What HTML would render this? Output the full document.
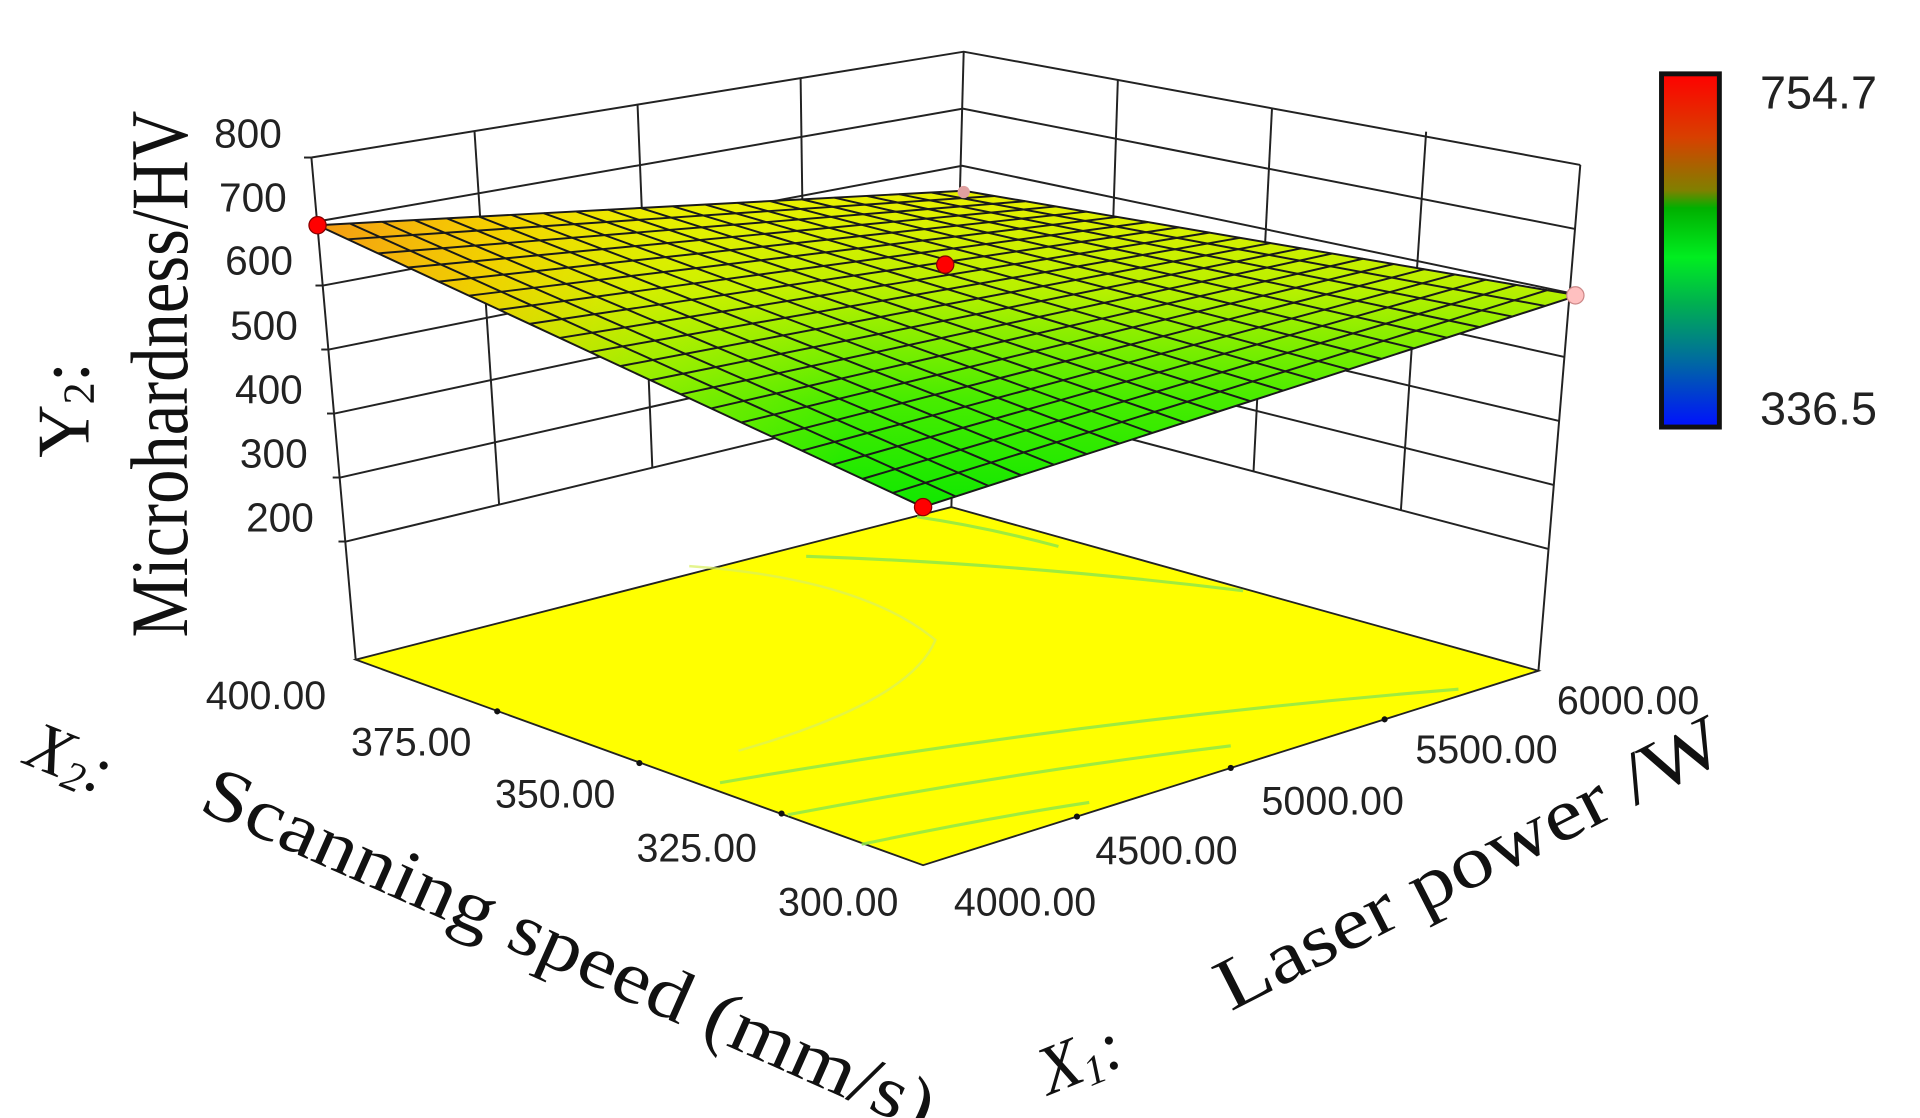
<!DOCTYPE html>
<html><head><meta charset="utf-8"><style>
html,body{margin:0;padding:0;background:#fff;}
svg{display:block;}
</style></head><body>
<svg width="1920" height="1118" viewBox="0 0 1560 908.4" xmlns="http://www.w3.org/2000/svg">
<defs>
<linearGradient id="cb" x1="0" y1="0" x2="0" y2="1">
<stop offset="0" stop-color="#ff0000"/>
<stop offset="0.18" stop-color="#d84000"/>
<stop offset="0.33" stop-color="#808000"/>
<stop offset="0.38" stop-color="#00b000"/>
<stop offset="0.52" stop-color="#00ee20"/>
<stop offset="0.65" stop-color="#00b050"/>
<stop offset="0.8" stop-color="#00709a"/>
<stop offset="1" stop-color="#0010ff"/>
</linearGradient>
<linearGradient id="sv" gradientUnits="userSpaceOnUse" x1="0" y1="412" x2="0" y2="160">
<stop offset="0" stop-color="#10e800"/>
<stop offset="0.35" stop-color="#48ec00"/>
<stop offset="0.7" stop-color="#b8f000"/>
<stop offset="1" stop-color="#e8f000"/>
</linearGradient>
<linearGradient id="sh" gradientUnits="userSpaceOnUse" x1="258" y1="190" x2="700" y2="300">
<stop offset="0" stop-color="#f49a14" stop-opacity="1"/>
<stop offset="0.3" stop-color="#fcc800" stop-opacity="0.8"/>
<stop offset="0.65" stop-color="#f8f000" stop-opacity="0.35"/>
<stop offset="1" stop-color="#f8f000" stop-opacity="0"/>
</linearGradient>
</defs>

<g stroke="#222" stroke-width="1.6" fill="none">
<polyline points="253,128 783,42 1284,134"/>
<polyline points="257.7,180 782.3,88.3 1279.7,186"/>
<polyline points="262.3,232 781.7,134.7 1275.3,238"/>
<polyline points="267,284 781,181 1271,290"/>
<polyline points="271.7,336 780.3,227.3 1266.7,342"/>
<polyline points="276.3,388 779.7,273.7 1262.3,394"/>
<polyline points="281,440 779,320 1258,446"/>
<line x1="253" y1="128" x2="289" y2="536"/>
<line x1="1284" y1="134" x2="1250" y2="545"/>
<line x1="783" y1="42" x2="773" y2="412"/>
<line x1="385.5" y1="106.5" x2="405.5" y2="410"/>
<line x1="518" y1="85" x2="530" y2="380"/>
<line x1="650.5" y1="63.5" x2="654.5" y2="350"/>
<line x1="1158.75" y1="107" x2="1138.25" y2="414.5"/>
<line x1="1033.5" y1="88" x2="1018.5" y2="383"/>
<line x1="908.25" y1="65" x2="898.75" y2="351.5"/>
<line x1="247" y1="128" x2="253" y2="128"/>
<line x1="251.7" y1="180" x2="257.7" y2="180"/>
<line x1="256.3" y1="232" x2="262.3" y2="232"/>
<line x1="261" y1="284" x2="267" y2="284"/>
<line x1="265.7" y1="336" x2="271.7" y2="336"/>
<line x1="270.3" y1="388" x2="276.3" y2="388"/>
<line x1="275" y1="440" x2="281" y2="440"/>
</g>

<polygon points="289,536 750,703 1250,545 773,412" fill="#ffff00" stroke="#222" stroke-width="1.5"/>
<g fill="none" stroke="#8ee84a" stroke-width="2.5" opacity="0.85">
<path d="M 700,686 Q 800,665 885,652"/>
<path d="M 640,662 Q 820,628 1000,606"/>
<path d="M 585,636 Q 880,585 1185,560"/>
<path d="M 745,420 Q 800,428 860,444"/>
<path d="M 655,452 Q 830,458 1010,480"/>
</g>
<path d="M 560,460 Q 700,470 760,520 Q 740,570 600,610" fill="none" stroke="#d8f060" stroke-width="2" opacity="0.7"/>
<g fill="#111">
<circle cx="404" cy="578" r="2.5"/><circle cx="519.5" cy="620" r="2.5"/><circle cx="635" cy="661" r="2.5"/>
<circle cx="875" cy="663.5" r="2.5"/><circle cx="1000" cy="624" r="2.5"/><circle cx="1125" cy="584.5" r="2.5"/>
</g>

<polygon points="750,412 1282,240 783,155 258,183" fill="url(#sv)"/>
<polygon points="750,412 1282,240 783,155 258,183" fill="url(#sh)"/>
<g stroke="#1a1a1a" stroke-width="1.6" fill="none">
<line x1="750" y1="412" x2="258" y2="183"/>
<line x1="776.6" y1="403.4" x2="284.25" y2="181.6"/>
<line x1="803.2" y1="394.8" x2="310.5" y2="180.2"/>
<line x1="829.8" y1="386.2" x2="336.75" y2="178.8"/>
<line x1="856.4" y1="377.6" x2="363" y2="177.4"/>
<line x1="883" y1="369" x2="389.25" y2="176"/>
<line x1="909.6" y1="360.4" x2="415.5" y2="174.6"/>
<line x1="936.2" y1="351.8" x2="441.75" y2="173.2"/>
<line x1="962.8" y1="343.2" x2="468" y2="171.8"/>
<line x1="989.4" y1="334.6" x2="494.25" y2="170.4"/>
<line x1="1016" y1="326" x2="520.5" y2="169"/>
<line x1="1042.6" y1="317.4" x2="546.75" y2="167.6"/>
<line x1="1069.2" y1="308.8" x2="573" y2="166.2"/>
<line x1="1095.8" y1="300.2" x2="599.25" y2="164.8"/>
<line x1="1122.4" y1="291.6" x2="625.5" y2="163.4"/>
<line x1="1149" y1="283" x2="651.75" y2="162"/>
<line x1="1175.6" y1="274.4" x2="678" y2="160.6"/>
<line x1="1202.2" y1="265.8" x2="704.25" y2="159.2"/>
<line x1="1228.8" y1="257.2" x2="730.5" y2="157.8"/>
<line x1="1255.4" y1="248.6" x2="756.75" y2="156.4"/>
<line x1="1282" y1="240" x2="783" y2="155"/>
<line x1="750" y1="412" x2="1282" y2="240"/>
<line x1="725.4" y1="400.55" x2="1257.05" y2="235.75"/>
<line x1="700.8" y1="389.1" x2="1232.1" y2="231.5"/>
<line x1="676.2" y1="377.65" x2="1207.15" y2="227.25"/>
<line x1="651.6" y1="366.2" x2="1182.2" y2="223"/>
<line x1="627" y1="354.75" x2="1157.25" y2="218.75"/>
<line x1="602.4" y1="343.3" x2="1132.3" y2="214.5"/>
<line x1="577.8" y1="331.85" x2="1107.35" y2="210.25"/>
<line x1="553.2" y1="320.4" x2="1082.4" y2="206"/>
<line x1="528.6" y1="308.95" x2="1057.45" y2="201.75"/>
<line x1="504" y1="297.5" x2="1032.5" y2="197.5"/>
<line x1="479.4" y1="286.05" x2="1007.55" y2="193.25"/>
<line x1="454.8" y1="274.6" x2="982.6" y2="189"/>
<line x1="430.2" y1="263.15" x2="957.65" y2="184.75"/>
<line x1="405.6" y1="251.7" x2="932.7" y2="180.5"/>
<line x1="381" y1="240.25" x2="907.75" y2="176.25"/>
<line x1="356.4" y1="228.8" x2="882.8" y2="172"/>
<line x1="331.8" y1="217.35" x2="857.85" y2="167.75"/>
<line x1="307.2" y1="205.9" x2="832.9" y2="163.5"/>
<line x1="282.6" y1="194.45" x2="807.95" y2="159.25"/>
<line x1="258" y1="183" x2="783" y2="155"/>
</g>
<circle cx="258" cy="183" r="7" fill="#ff0000" stroke="#800"/>
<circle cx="768" cy="215" r="7" fill="#ff0000" stroke="#800"/>
<circle cx="750" cy="412" r="7" fill="#ff0000" stroke="#800"/>
<circle cx="1280" cy="240" r="7" fill="#ffc0c0" stroke="#c88"/>
<circle cx="783" cy="156" r="5" fill="#e0a0a0"/>

<rect x="1350" y="60" width="47" height="287" fill="url(#cb)" stroke="#111" stroke-width="4"/>
<text x="1430" y="88" font-family="Liberation Sans, sans-serif" font-size="38" fill="#222">754.7</text>
<text x="1430" y="345" font-family="Liberation Sans, sans-serif" font-size="38" fill="#222">336.5</text>
<g font-family="Liberation Sans, sans-serif" font-size="33" fill="#222" text-anchor="end">
<text x="229" y="120">800</text>
<text x="233" y="172">700</text>
<text x="238" y="223">600</text>
<text x="242" y="276">500</text>
<text x="246" y="328">400</text>
<text x="250" y="380">300</text>
<text x="255" y="432">200</text>
</g>
<g font-family="Liberation Sans, sans-serif" font-size="32" fill="#222">
<text x="265" y="576" text-anchor="end">400.00</text>
<text x="383" y="614" text-anchor="end">375.00</text>
<text x="500" y="656" text-anchor="end">350.00</text>
<text x="615" y="700" text-anchor="end">325.00</text>
<text x="730" y="744" text-anchor="end">300.00</text>
<text x="775" y="744">4000.00</text>
<text x="890" y="702">4500.00</text>
<text x="1025" y="662">5000.00</text>
<text x="1150" y="620">5500.00</text>
<text x="1265" y="580">6000.00</text>
</g>
<g font-family="Liberation Serif, serif" fill="#111">
<text transform="translate(72,372) rotate(-90)" font-size="60">Y<tspan font-size="36" dy="4">2</tspan><tspan dy="-4">:</tspan></text>
<text transform="translate(152,518) rotate(-90)" font-size="66" textLength="428" lengthAdjust="spacingAndGlyphs">Microhardness/HV</text>
<text transform="translate(18,620) rotate(22)" font-size="56" font-style="italic">X<tspan font-size="34" dy="6">2</tspan><tspan dy="-6">:</tspan></text>
<text transform="translate(160,658) rotate(24)" font-size="60" textLength="645" lengthAdjust="spacingAndGlyphs">Scanning speed (mm/s)</text>
<text transform="translate(852,890) rotate(-22)" font-size="56" font-style="italic">X<tspan font-size="34" dy="6">1</tspan><tspan dy="-6">:</tspan></text>
<text transform="translate(1000,822) rotate(-27)" font-size="60" textLength="455" lengthAdjust="spacingAndGlyphs">Laser power /W</text>
</g>
</svg>
</body></html>
